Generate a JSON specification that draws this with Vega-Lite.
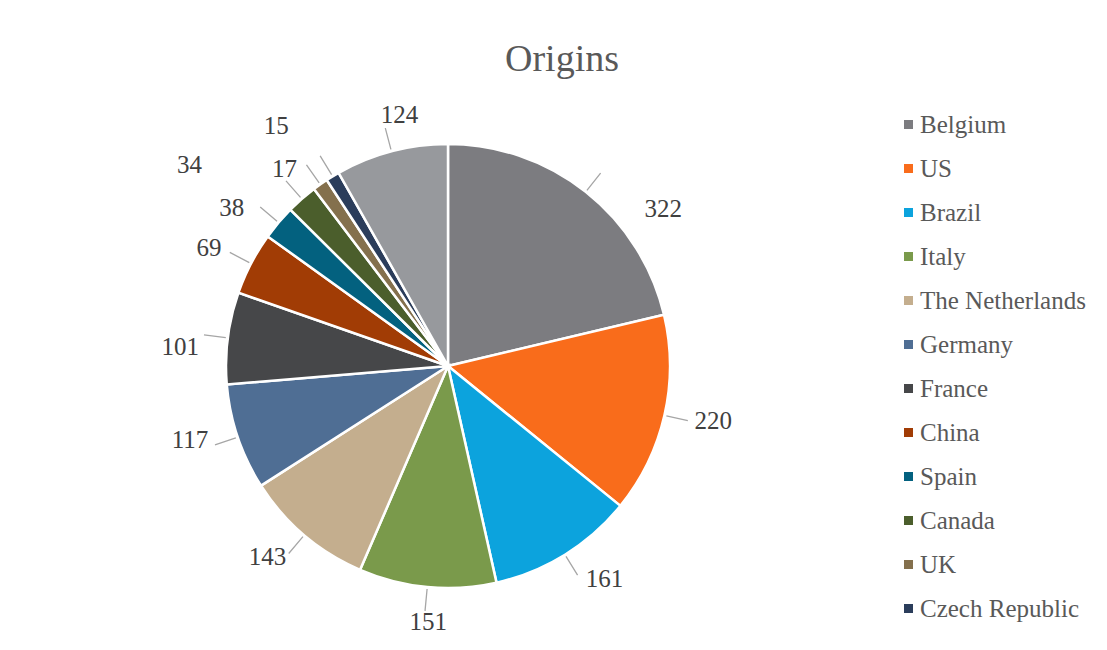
{
  "$schema": "https://vega.github.io/schema/vega-lite/v6.json",
  "autosize": {"type": "none"},
  "width": 896,
  "height": 500,
  "padding": {"left": 0, "top": 116, "right": 211, "bottom": 34},
  "background": "white",
  "title": {"text": "Origins", "font": "Liberation Serif", "fontSize": 38, "fontWeight": "normal", "color": "#595959", "anchor": "middle", "baseline": "alphabetic", "offset": -6, "dx": 114},
  "config": {"view": {"stroke": null}},
  "data": {"values": [
    {"country": "Belgium", "value": 322, "order": 1},
    {"country": "US", "value": 220, "order": 2},
    {"country": "Brazil", "value": 161, "order": 3},
    {"country": "Italy", "value": 151, "order": 4},
    {"country": "The Netherlands", "value": 143, "order": 5},
    {"country": "Germany", "value": 117, "order": 6},
    {"country": "France", "value": 101, "order": 7},
    {"country": "China", "value": 69, "order": 8},
    {"country": "Spain", "value": 38, "order": 9},
    {"country": "Canada", "value": 34, "order": 10},
    {"country": "UK", "value": 17, "order": 11},
    {"country": "Czech Republic", "value": 15, "order": 12},
    {"country": "Other", "value": 124, "order": 13}
  ]},
  "encoding": {
    "theta": {"field": "value", "type": "quantitative", "stack": true},
    "order": {"field": "order", "type": "quantitative"}
  },
  "layer": [
    {
      "mark": {"type": "arc", "radius": 222, "stroke": "white", "strokeWidth": 2.5},
      "encoding": {
        "color": {
          "field": "country",
          "type": "nominal",
          "sort": null,
          "scale": {
            "domain": ["Belgium", "US", "Brazil", "Italy", "The Netherlands", "Germany", "France", "China", "Spain", "Canada", "UK", "Czech Republic", "Other"],
            "range": ["#7c7c80", "#f96c1b", "#0ca3dd", "#7a9a4b", "#c4ae8e", "#4f6e94", "#464749", "#a13c05", "#03617f", "#4b5e2c", "#84704d", "#2b3d5b", "#97999d"]
          },
          "legend": {
            "values": ["Belgium", "US", "Brazil", "Italy", "The Netherlands", "Germany", "France", "China", "Spain", "Canada", "UK", "Czech Republic"],
            "title": null,
            "orient": "none",
            "legendX": 896,
            "legendY": -4,
            "padding": 0,
            "symbolType": "square",
            "symbolSize": 81,
            "symbolStrokeWidth": 0,
            "labelFont": "Liberation Serif",
            "labelFontSize": 25,
            "labelColor": "#595959",
            "labelOffset": -1,
            "rowPadding": 18,
            "labelLimit": 300
          }
        }
      }
    },
    {
      "mark": {"type": "arc", "radius": 246, "radius2": 224, "padAngle": 3, "filled": false, "stroke": "#a6a6a6", "strokeWidth": 1.3},
      "encoding": {}
    },
    {
      "mark": {
        "type": "text",
        "radius": 265,
        "font": "Liberation Serif",
        "fontSize": 25,
        "fill": "#404040",
        "dx": {"expr": "datum.country === 'Belgium' ? 51 : datum.country === 'US' ? 7 : datum.country === 'Brazil' ? 17 : datum.country === 'Italy' ? 5 : datum.country === 'The Netherlands' ? -9 : datum.country === 'Germany' ? -7 : datum.country === 'France' ? -5 : datum.country === 'China' ? -4 : datum.country === 'Spain' ? -14 : datum.country === 'Canada' ? -84 : datum.country === 'UK' ? -11 : datum.country === 'Czech Republic' ? -34 : datum.country === 'Other' ? 19 : 0"},
        "dy": {"expr": "datum.country === 'Belgium' ? 51 : datum.country === 'US' ? -4 : datum.country === 'Brazil' ? -12 : datum.country === 'Italy' ? -8 : datum.country === 'The Netherlands' ? -11 : datum.country === 'Germany' ? -11 : datum.country === 'France' ? 14 : datum.country === 'China' ? 4 : datum.country === 'Spain' ? 13 : datum.country === 'Canada' ? -2 : datum.country === 'UK' ? 20 : datum.country === 'Czech Republic' ? -14 : datum.country === 'Other' ? 5 : 0"}
      },
      "encoding": {
        "text": {"field": "value", "type": "quantitative"}
      }
    }
  ]
}
